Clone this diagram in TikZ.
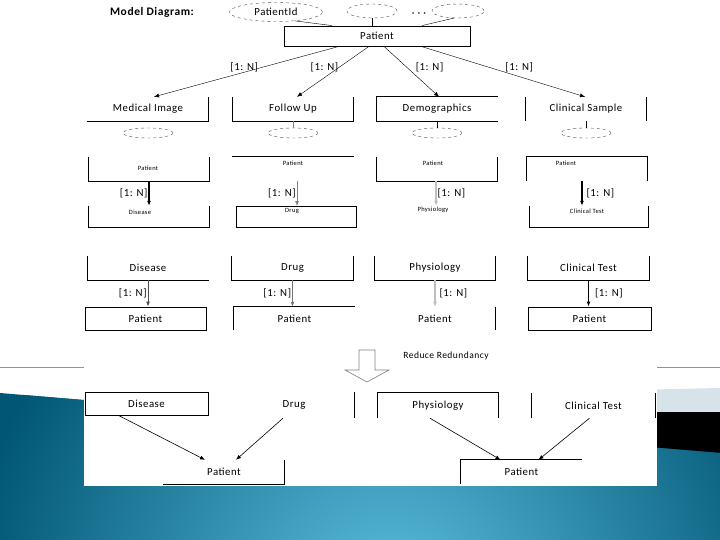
\documentclass[tikz,border=0pt]{standalone}
\usepackage{fontspec}
\setmainfont{Carlito}[LetterSpace=5]
\usetikzlibrary{arrows.meta,shapes.geometric}
\definecolor{slideblue}{RGB}{0,86,116}
\definecolor{slidelight}{RGB}{92,190,222}
\definecolor{slideline}{RGB}{110,158,186}
\definecolor{slideband}{RGB}{214,228,234}
\begin{document}
\begin{tikzpicture}[x=1pt, y=-1pt,
	box/.style={minimum width=121pt, minimum height=24pt, inner sep=0pt, font=\fontsize{10.8}{13}\selectfont},
	tiny/.style={inner sep=0pt, font=\fontsize{6.5}{8}\selectfont},
	attr/.style={draw=black!70, dashed, ellipse, minimum width=50pt, minimum height=10pt, inner sep=0pt},
	card/.style={inner sep=1pt, font=\fontsize{10.8}{13}\selectfont},
	side/.style={line width=0.8pt},
	>={Latex[length=5pt, width=4pt]}]
	\useasboundingbox (0,0) rectangle (720,540);
	% slide background
	\fill[white] (0,0) rectangle (720,540);
	\draw[slideline, line width=0.8pt] (0,367) -- (720,367);
	\fill[slideband] (630,390) -- (720,388) -- (720,412) -- (630,412) -- cycle;
	\fill[black] (630,412) -- (720,412) -- (720,454) -- (630,446) -- cycle;
	\begin{scope}
		\clip (0,393) -- (720,453) -- (720,540) -- (0,540) -- cycle;
		\fill[slideblue] (0,380) rectangle (720,540);
		\shade[inner color=slidelight, outer color=slideblue] (390,600) circle (420);
	\end{scope}
	\fill[white] (84,0) rectangle (657,486);

	% top entity
	\node[card, font=\bfseries\fontsize{11.5}{13}\selectfont] (title) at (152,12) {Model Diagram:};
	\node[attr, minimum width=93pt, minimum height=19pt, font=\fontsize{10.8}{13}\selectfont] (pid) at (276,12) {PatientId};
	\node[attr, minimum height=14pt] (ea) at (372,11) {};
	\node[card] (dots) at (419,15) {· · ·};
	\node[attr, minimum width=52pt, minimum height=14pt] (eb) at (458,11) {};
	\node[box, draw, side, minimum width=186pt, minimum height=20pt] (pat) at (377,36) {Patient};
	\draw (pid.-25) -- ([xshift=-45pt]pat.north);
	\draw (ea.south) -- (ea.south |- pat.north);
	\draw (eb.-120) -- ([xshift=45pt]pat.north);

	% first level
	\node[box] (mi) at (148,109) {Medical Image};
	\node[box] (fu) at (293,109) {Follow Up};
	\node[box] (dg) at (437,109) {Demographics};
	\node[box] (cs) at (586,109) {Clinical Sample};
	\draw[side] (mi.south west) -- (mi.south east) -- (mi.north east);
	\draw[side] (fu.north west) -- (fu.south west) -- (fu.south east) -- (fu.north east);
	\draw[side] (dg.north east) -- (dg.north west) -- (dg.south west) -- (dg.south east);
	\draw[side] (cs.north west) -- (cs.south west) (cs.north east) -- (cs.south east);
	\draw[->] ([xshift=-38pt]pat.south) -- node[pos=.41, anchor=east, xshift=-4pt, card] {[1: N]} ([xshift=6pt]mi.north);
	\draw[->] ([xshift=-8pt]pat.south) -- node[pos=.41, anchor=east, card] {[1: N]} ([xshift=4pt]fu.north);
	\draw[->] ([xshift=7pt]pat.south) -- node[pos=.41, anchor=west, xshift=8pt, card] {[1: N]} ([xshift=2pt]dg.north);
	\draw[->] ([xshift=44pt]pat.south) -- node[pos=.41, anchor=west, xshift=16pt, card] {[1: N]} ([xshift=-1pt]cs.north);
	\node[attr] (a1) at (148,133) {};
	\node[attr] (a2) at (293,133) {};
	\node[attr] (a3) at (437,133) {};
	\node[attr] (a4) at (586,133) {};
	\draw[gray] (fu.south) -- (a2.north);
	\draw (dg.south) -- (a3.north);
	\draw (cs.south) -- (a4.north);

	% second level
	\node[box] (p1) at (149,169) {};
	\node[box] (p2) at (293,169) {};
	\node[box] (p3) at (437,169) {};
	\node[box] (p4) at (587,169) {};
	\node[tiny] (p1t) at (148,168) {Patient};
	\node[tiny] (p2t) at (293,163) {Patient};
	\node[tiny] (p3t) at (433,163) {Patient};
	\node[tiny] (p4t) at (566,163) {Patient};
	\draw[side] (p1.north west) -- (p1.south west) -- (p1.south east) -- (p1.north east);
	\draw[side] (p2.north west) -- (p2.north east);
	\draw[side] (p3.north west) -- (p3.south west) -- (p3.south east) -- (p3.north east);
	\draw[side] (p4.south west) -- (p4.north west) -- (p4.north east) -- (p4.south east);

	\node[box, minimum height=21pt] (d1) at (149,216.5) {};
	\node[box, draw, side, minimum width=120pt, minimum height=21pt] (d2) at (296,217) {};
	\node[box, minimum height=21pt] (d3) at (436,216.5) {};
	\node[box, minimum width=118pt, minimum height=21pt] (d4) at (589,216.5) {};
	\node[tiny] (d1t) at (140,212) {Disease};
	\node[tiny] (d2t) at (292,211) {Drug};
	\node[tiny] (d3t) at (433,210) {Physiology};
	\node[tiny] (d4t) at (587,211) {Clinical Test};
	\draw[side] (d1.north west) -- (d1.south west) -- (d1.south east) -- (d1.north east);
	\draw[side] (d4.north west) -- (d4.south west) -- (d4.south east) -- (d4.north east);
	\draw[->, line width=1.1pt] (p1.south) -- node[left, card] {[1: N]} (p1.south |- d1.north);
	\draw[->, gray, line width=0.8pt] ([xshift=4pt]p2.south) -- node[left, card, black] {[1: N]} ([xshift=4pt]p2.south |- d2.north);
	\draw[->, black!25, line width=1.1pt] ([xshift=-1pt]p3.south) -- node[right, card, black] {[1: N]} ([xshift=-1pt]p3.south |- d3.north);
	\draw[->, line width=1.1pt] ([xshift=-5pt]p4.south) -- node[right, card, xshift=3pt] {[1: N]} ([xshift=-5pt]p4.south |- d4.north);

	% split tables
	\node[box] (r1) at (148,268) {Disease};
	\node[box] (r2) at (292.5,268) {Drug};
	\node[box] (r3) at (435,268) {Physiology};
	\node[box] (r4) at (588.5,268) {Clinical Test};
	\draw[side] (r1.north west) -- (r1.south west) -- (r1.south east);
	\draw[side] (r2.north west) -- (r2.south west) -- (r2.south east) -- (r2.north east);
	\draw[side] (r3.north west) -- (r3.south west) -- (r3.south east) -- (r3.north east);
	\draw[side] (r4.north west) -- (r4.south west) -- (r4.south east) -- (r4.north east);
	\node[box, draw, side, minimum height=23pt] (q1) at (145.5,318.5) {Patient};
	\node[box, minimum height=23pt] (q2) at (294.5,318.5) {Patient};
	\node[box, minimum width=120pt, minimum height=23pt] (q3) at (435,318.5) {Patient};
	\node[box, draw, side, minimum width=123pt, minimum height=23pt] (q4) at (589.5,318.5) {Patient};
	\draw[side] (q2.south west) -- (q2.north west) -- (q2.north east);
	\draw[side] (q3.north east) -- (q3.south east);
	\draw[->, black!70, line width=0.9pt] (r1.south) -- node[left, card, black] {[1: N]} (r1.south |- q1.north);
	\draw[->, black!55, line width=0.9pt] (r2.south) -- node[left, card, black] {[1: N]} (r2.south |- q2.north);
	\draw[->, black!25, line width=1.1pt] (r3.south) -- node[right, card, black, xshift=3pt] {[1: N]} (r3.south |- q3.north);
	\draw[->, line width=1.1pt] (r4.south) -- node[right, card, xshift=5pt] {[1: N]} (r4.south |- q4.north);

	% reduced model
	\draw[gray, line width=0.6pt] (359,350) -- (375,350) -- (375,370) -- (389,370) -- (367,382) -- (345,370) -- (359,370) -- cycle;
	\node[card, font=\fontsize{9.5}{11}\selectfont] (red) at (446,356) {Reduce Redundancy};
	\node[box, draw, side, minimum width=123pt, minimum height=23pt] (b1) at (146.5,403.5) {Disease};
	\node[box, minimum height=26pt] (b2) at (294,405) {Drug};
	\node[box, minimum width=120pt, minimum height=25pt] (b3) at (438,405.5) {Physiology};
	\node[box, minimum width=123pt, minimum height=25pt] (b4) at (593.5,405.5) {Clinical Test};
	\draw[side] (b2.north east) -- (b2.south east);
	\draw[side] (b3.south west) -- (b3.north west) -- (b3.north east) -- (b3.south east);
	\draw[side] (b4.north west) -- (b4.south west) (b4.north east) -- (b4.south east);
	\node[box] (c1) at (224,472) {Patient};
	\node[box] (c2) at (521.5,472) {Patient};
	\draw[side] (c1.north east) -- (c1.south east) -- (c1.south west);
	\draw[side] (c2.north east) -- (c2.north west) -- (c2.south west);
	\draw[->, line width=0.6pt] ([xshift=-28pt]b1.south) -- ([xshift=-19pt]c1.north);
	\draw[->, line width=0.6pt] ([xshift=-11pt]b2.south) -- ([xshift=12pt]c1.north);
	\draw[->, line width=0.6pt] ([xshift=-8pt]b3.south) -- ([xshift=-21pt]c2.north);
	\draw[->, line width=0.6pt] ([xshift=-4pt]b4.south) -- ([xshift=17pt]c2.north);
\end{tikzpicture}
\end{document}
